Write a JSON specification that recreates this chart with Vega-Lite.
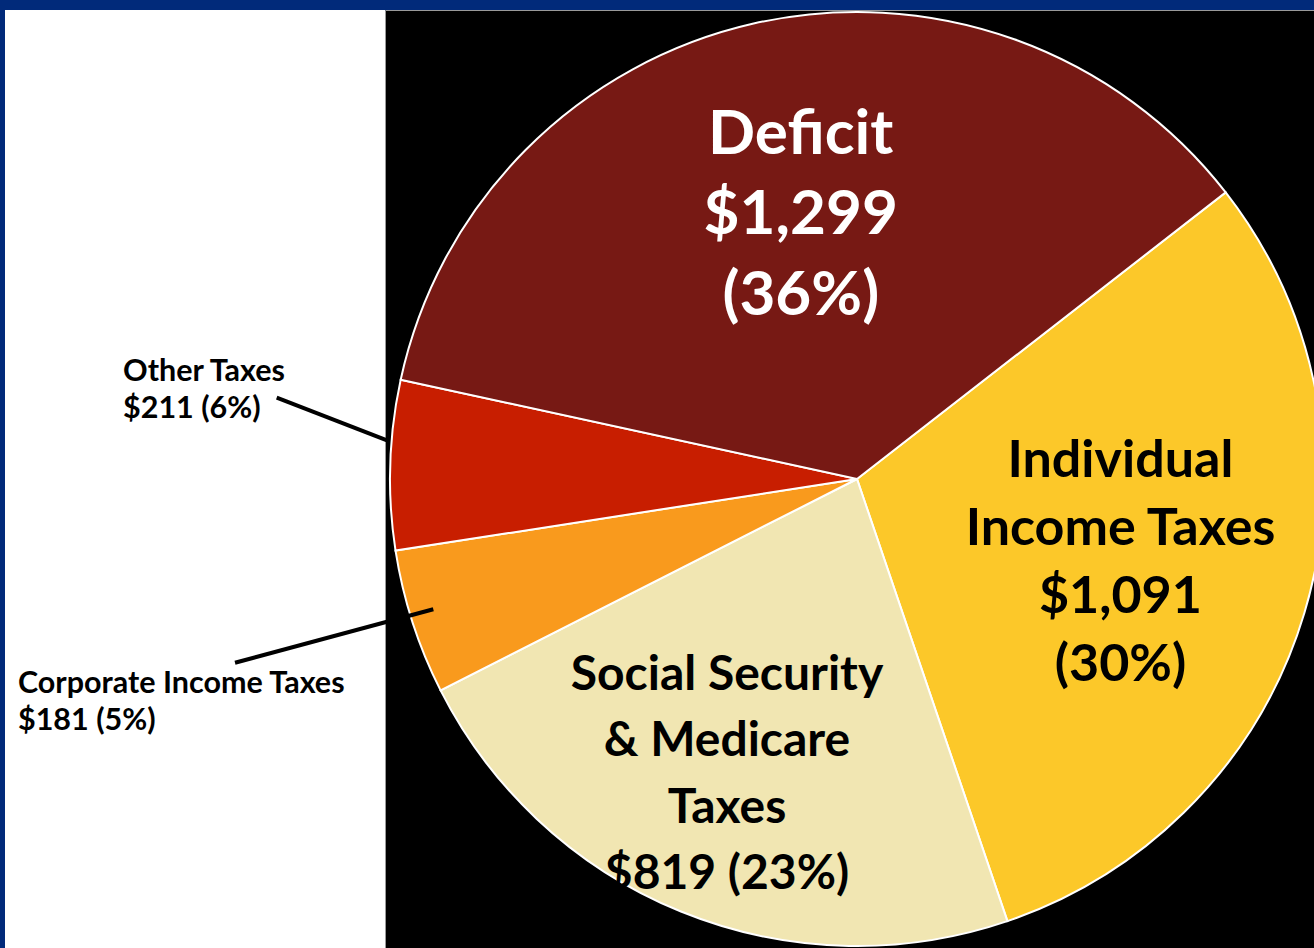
{
  "$schema": "https://vega.github.io/schema/vega-lite/v6.json",
  "background": "#012a7a",
  "padding": {"left": 5, "top": 9, "right": 0, "bottom": 0},
  "spacing": 0,
  "bounds": "flush",
  "config": {"view": {"stroke": null}, "text": {"lineBreak": "\n"}},
  "datasets": {
    "pie": [
      {"cat": "Individual Income Taxes", "amount": 1091, "order": 1, "label": "Individual\nIncome Taxes\n$1,091\n(30%)"},
      {"cat": "Social Security & Medicare Taxes", "amount": 819, "order": 2, "label": "Social Security\n& Medicare\nTaxes\n$819 (23%)"},
      {"cat": "Corporate Income Taxes", "amount": 181, "order": 3, "label": "Corporate Income Taxes\n$181 (5%)"},
      {"cat": "Other Taxes", "amount": 211, "order": 4, "label": "Other Taxes\n$211 (6%)"},
      {"cat": "Deficit", "amount": 1299, "order": 5, "label": "Deficit\n$1,299\n(36%)"}
    ],
    "callouts": [
      {"cat": "Other Taxes", "lx": -1.5717, "ly": 0.2099, "x1": -1.2426, "y1": 0.1741, "x2": -1.0036, "y2": 0.0814},
      {"cat": "Corporate Income Taxes", "lx": -1.7966, "ly": -0.4582, "x1": -1.3319, "y1": -0.3934, "x2": -0.9073, "y2": -0.2790}
    ]
  },
  "hconcat": [
    {
      "width": 380,
      "height": 939,
      "view": {"fill": "white", "stroke": null},
      "data": {"values": [{"t": ""}]},
      "mark": {"type": "text"},
      "encoding": {"text": {"field": "t", "type": "nominal"}}
    },
    {
      "width": 929,
      "height": 939,
      "view": {"fill": "black", "stroke": "#9a9a9a", "strokeWidth": 1},
      "layer": [
        {
          "data": {"name": "pie"},
          "mark": {"type": "arc", "outerRadius": 467, "stroke": "white", "strokeWidth": 2, "clip": true},
          "encoding": {
            "x": {"datum": 0, "type": "quantitative", "scale": {"domain": [-1, 1], "range": [5, 939], "nice": false, "zero": false}, "axis": null},
            "y": {"datum": 0, "type": "quantitative", "scale": {"domain": [-1, 1], "range": [936, 2], "nice": false, "zero": false}, "axis": null},
            "theta": {"field": "amount", "type": "quantitative", "stack": true, "scale": {"range": [0.91, 7.1932]}},
            "order": {"field": "order", "type": "quantitative"},
            "color": {
              "field": "cat", "type": "nominal", "legend": null,
              "scale": {
                "domain": ["Individual Income Taxes", "Social Security & Medicare Taxes", "Corporate Income Taxes", "Other Taxes", "Deficit"],
                "range": ["#FCC829", "#F1E6B2", "#F99A1D", "#C81E00", "#771914"]
              }
            }
          }
        },
        {
          "data": {"name": "pie"},
          "mark": {"type": "text", "font": "Lato", "fontWeight": "bold", "fontSize": 62, "lineHeight": 80.5, "align": "center", "baseline": "middle", "color": "white", "dx": 4, "dy": -79},
          "encoding": {
            "x": {"datum": 0, "type": "quantitative", "axis": null},
            "y": {"datum": 0, "type": "quantitative", "axis": null},
            "theta": {"field": "amount", "type": "quantitative", "stack": true},
            "order": {"field": "order", "type": "quantitative"},
            "radius": {"value": 272},
            "text": {"field": "label", "type": "nominal", "condition": {"test": "datum.cat !== 'Deficit'", "value": ""}}
          }
        },
        {
          "data": {"name": "pie"},
          "mark": {"type": "text", "font": "Lato", "fontWeight": "bold", "fontSize": 52, "lineHeight": 68, "align": "center", "baseline": "middle", "color": "black", "dy": -97},
          "encoding": {
            "x": {"datum": 0, "type": "quantitative", "axis": null},
            "y": {"datum": 0, "type": "quantitative", "axis": null},
            "theta": {"field": "amount", "type": "quantitative", "stack": true},
            "order": {"field": "order", "type": "quantitative"},
            "radius": {"value": 275},
            "text": {"field": "label", "type": "nominal", "condition": {"test": "datum.cat !== 'Individual Income Taxes'", "value": ""}}
          }
        },
        {
          "data": {"name": "pie"},
          "mark": {"type": "text", "font": "Lato", "fontWeight": "bold", "fontSize": 48, "lineHeight": 66.5, "align": "center", "baseline": "middle", "color": "black", "dx": -12, "dy": -93},
          "encoding": {
            "x": {"datum": 0, "type": "quantitative", "axis": null},
            "y": {"datum": 0, "type": "quantitative", "axis": null},
            "theta": {"field": "amount", "type": "quantitative", "stack": true},
            "order": {"field": "order", "type": "quantitative"},
            "radius": {"value": 313},
            "text": {"field": "label", "type": "nominal", "condition": {"test": "datum.cat !== 'Social Security & Medicare Taxes'", "value": ""}}
          }
        },
        {
          "data": {"name": "callouts"},
          "mark": {"type": "rule", "color": "black", "strokeWidth": 4},
          "encoding": {
            "x": {"field": "x1", "type": "quantitative", "axis": null},
            "y": {"field": "y1", "type": "quantitative", "axis": null},
            "x2": {"field": "x2"},
            "y2": {"field": "y2"}
          }
        },
        {
          "data": {"name": "callouts"},
          "transform": [{"lookup": "cat", "from": {"data": {"name": "pie"}, "key": "cat", "fields": ["label"]}}],
          "mark": {"type": "text", "font": "Lato", "fontWeight": "bold", "fontSize": 30.5, "lineHeight": 37, "align": "left", "baseline": "alphabetic", "color": "black"},
          "encoding": {
            "x": {"field": "lx", "type": "quantitative", "axis": null},
            "y": {"field": "ly", "type": "quantitative", "axis": null},
            "text": {"field": "label", "type": "nominal"}
          }
        }
      ]
    }
  ]
}
